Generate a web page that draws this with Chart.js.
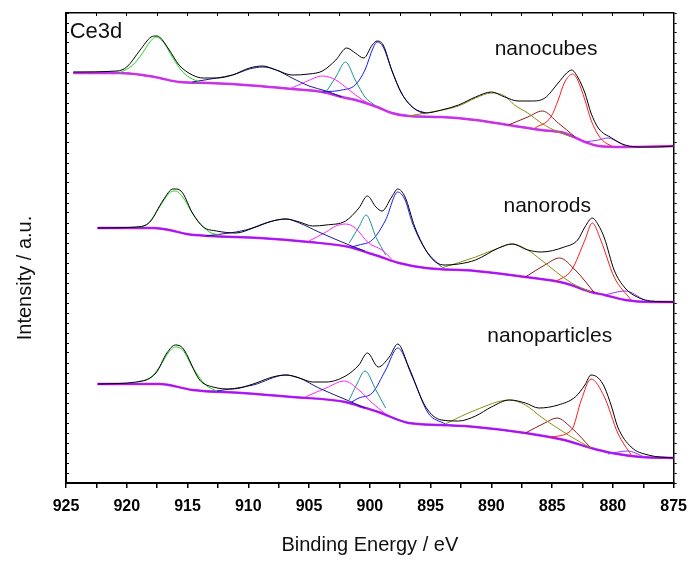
<!DOCTYPE html>
<html>
<head>
<meta charset="utf-8">
<script src="https://cdn.jsdelivr.net/npm/chart.js@4.4.0/dist/chart.umd.min.js"></script>
<style>
  html, body { margin: 0; padding: 0; background: #fff; }
  #wrap { width: 696px; height: 561px; }
</style>
</head>
<body>
<div id="wrap"><canvas id="chart-1"></canvas></div>
<script>
// Ce3d XPS spectra, points are [binding energy / eV, intensity / a.u.]
// each spectrum is stacked with its own offset, as in the figure

// nanocubes (top)
var cubes_exp = [[924.4,41.1],[920.8,41.2],[920.0,41.6],[918.9,43.3],[918.0,44.6],[917.6,44.7],[917.3,44.6],[916.5,43.3],[915.7,41.8],[914.6,40.8],[913.7,40.5],[912.6,40.5],[911.3,40.8],[909.9,41.5],[908.8,41.7],[907.7,41.3],[906.4,40.8],[905.0,40.9],[903.9,41.2],[902.8,42.3],[901.9,43.5],[901.2,43.0],[900.5,42.5],[899.8,43.8],[899.4,44.2],[898.9,43.8],[898.2,41.3],[897.4,39.0],[896.4,37.5],[895.4,37.0],[894.1,37.3],[892.7,37.8],[891.3,38.6],[890.0,39.1],[888.9,38.6],[887.8,38.2],[886.7,38.2],[885.6,38.5],[884.5,40.0],[883.8,41.0],[883.4,41.3],[882.9,40.6],[882.3,39.0],[881.8,37.0],[881.2,35.5],[880.1,34.5],[879.0,33.8],[877.7,33.6],[876.3,33.6],[875.0,33.7]];
var cubes_bg = [[924.4,41.0],[920.6,41.0],[918.7,40.8],[917.3,40.5],[915.7,40.1],[913.2,40.0],[909.1,39.7],[906.4,39.4],[903.9,39.1],[902.3,38.6],[900.9,38.2],[899.4,37.6],[898.2,37.0],[896.8,36.7],[894.1,36.6],[891.3,36.3],[888.6,35.8],[885.9,35.3],[884.0,35.0],[882.3,34.1],[881.2,33.7],[879.0,33.6],[875.0,33.7]];
var cubes_v1 = [[920.6,41.0],[919.5,41.8],[918.7,43.0],[918.1,44.1],[917.6,44.6],[917.0,44.1],[916.2,42.5],[915.4,41.1],[914.6,40.4],[914.0,40.1]];
var cubes_v2 = [[914.6,40.1],[912.6,40.5],[911.3,40.8],[909.9,41.4],[908.8,41.6],[907.7,41.3],[906.4,40.5],[905.0,39.7],[903.6,39.2],[902.3,38.6]];
var cubes_v3 = [[906.6,39.4],[905.3,40.1],[903.9,40.7],[902.8,40.3],[901.7,39.3],[900.6,38.3],[899.5,37.6]];
var cubes_v4 = [[903.6,39.1],[902.8,40.6],[902.0,42.1],[901.2,40.3],[900.4,38.6],[899.5,37.7]];
var cubes_v5 = [[903.9,39.1],[902.3,39.3],[901.2,39.8],[900.4,41.3],[899.7,43.6],[899.4,44.1],[898.9,43.6],[898.2,41.3],[897.4,39.0],[896.4,37.5],[895.4,37.0]];
var cubes_u1 = [[896.8,36.7],[895.4,37.0],[892.7,37.7],[891.3,38.5],[890.0,39.0],[888.9,38.7],[888.1,37.8],[887.0,37.0],[885.9,36.0],[884.5,35.1],[883.4,34.6]];
var cubes_u2 = [[888.6,35.8],[887.0,36.6],[885.8,37.2],[884.5,36.0],[883.1,34.6]];
var cubes_u3 = [[886.4,35.5],[885.1,36.6],[884.5,38.3],[884.0,40.0],[883.3,40.9],[882.9,40.3],[882.3,38.3],[881.8,36.3],[881.2,34.8],[880.7,34.1],[880.1,33.7]];
var cubes_u4 = [[882.3,34.1],[881.2,34.3],[880.4,34.5],[879.6,34.1],[879.0,33.7]];

// nanorods (middle)
var rods_exp = [[922.4,25.5],[919.2,25.6],[918.1,26.1],[917.0,28.3],[916.2,29.4],[915.9,29.4],[915.4,29.0],[914.6,27.0],[913.7,25.6],[912.6,25.2],[911.0,25.0],[909.6,25.5],[908.0,26.2],[906.9,26.4],[905.8,26.1],[904.7,25.7],[903.6,25.8],[902.0,26.2],[900.9,27.5],[900.2,28.7],[899.5,27.6],[899.0,27.2],[898.2,28.6],[897.7,29.4],[897.1,28.6],[896.3,25.6],[895.4,23.3],[894.6,22.1],[893.8,21.8],[892.7,21.9],[891.3,22.3],[889.4,23.5],[888.3,23.9],[887.0,23.3],[885.9,23.1],[884.0,23.6],[882.9,24.3],[882.3,25.6],[881.7,26.5],[881.2,25.8],[880.7,24.5],[879.9,21.3],[879.0,19.5],[878.0,18.6],[876.9,18.2],[875.0,18.1]];
var rods_bg = [[922.4,25.5],[917.8,25.5],[916.5,25.3],[915.1,24.9],[913.2,24.7],[909.1,24.5],[905.0,24.1],[901.7,23.6],[900.1,23.0],[899.3,22.7],[897.6,22.0],[895.4,21.5],[891.3,21.2],[887.2,20.6],[884.0,20.0],[881.8,19.1],[880.7,18.8],[879.0,18.3],[876.9,18.1],[875.0,18.1]];
var rods_v1 = [[919.2,25.6],[918.4,25.8],[917.3,27.6],[916.5,29.0],[916.0,29.2],[915.4,28.6],[914.6,27.0],[914.0,26.0],[913.2,25.1],[912.4,24.8]];
var rods_v2 = [[913.5,24.7],[910.2,25.3],[908.3,26.1],[906.9,26.4],[905.8,26.0],[904.2,25.1],[901.7,23.8],[900.4,23.2]];
var rods_v3 = [[905.0,24.2],[903.6,25.1],[902.8,25.7],[902.0,25.9],[901.2,25.5],[900.1,24.0],[899.0,23.3],[898.2,22.4]];
var rods_v4 = [[901.7,24.0],[901.2,25.0],[900.9,25.6],[900.3,26.8],[899.5,24.6],[898.7,22.8]];
var rods_v5 = [[901.5,23.6],[900.9,23.8],[899.8,24.3],[898.7,26.3],[897.7,29.1],[897.1,28.3],[896.5,26.0],[895.4,23.3],[894.1,21.6]];
var rods_u1 = [[894.1,21.5],[891.3,22.6],[889.4,23.5],[888.3,23.9],[887.0,23.3],[885.9,22.3],[883.4,20.0],[881.8,19.1]];
var rods_u2 = [[887.2,20.6],[885.6,21.8],[884.4,22.5],[883.1,21.3],[881.5,19.0]];
var rods_u3 = [[884.8,20.1],[883.4,21.3],[882.3,24.3],[881.7,26.0],[881.0,24.3],[879.9,20.6],[878.5,18.3]];
var rods_u4 = [[880.7,18.8],[879.0,19.2],[877.4,18.3]];

// nanoparticles (bottom)
var parts_exp = [[922.4,9.9],[919.2,10.1],[917.6,11.0],[916.7,13.0],[916.0,13.8],[915.4,13.5],[914.0,10.3],[912.9,9.6],[911.3,9.4],[909.6,9.9],[908.0,10.6],[906.9,10.8],[905.8,10.5],[904.7,10.1],[903.6,10.1],[902.0,10.7],[900.9,11.8],[900.2,13.0],[899.3,11.6],[898.4,12.6],[897.7,13.9],[896.8,11.6],[895.4,7.6],[894.1,6.3],[892.7,6.2],[891.3,6.7],[890.0,7.6],[888.5,8.3],[887.2,8.0],[886.1,7.5],[884.5,7.8],[883.1,8.6],[882.3,9.8],[881.8,10.8],[881.2,10.5],[880.7,9.6],[880.1,7.6],[879.6,5.6],[878.5,3.6],[877.1,2.8],[875.0,2.5]];
var parts_bg = [[922.4,9.9],[917.3,9.9],[914.6,9.3],[910.5,9.0],[906.4,8.6],[902.0,8.1],[900.9,7.7],[899.3,7.1],[896.8,6.0],[894.1,5.8],[891.3,5.6],[887.2,5.0],[884.0,4.3],[881.8,3.5],[880.1,3.0],[877.7,2.6],[875.0,2.5]];
var parts_v1 = [[919.2,10.1],[918.1,10.5],[917.3,11.6],[916.6,13.0],[916.0,13.6],[915.4,13.3],[914.6,11.6],[913.5,9.8],[912.6,9.2]];
var parts_v2 = [[912.6,9.2],[909.6,9.8],[906.9,10.8],[905.8,10.5],[904.2,9.5],[901.7,8.2],[900.4,7.5]];
var parts_v3 = [[905.3,8.6],[903.6,9.5],[902.1,10.2],[900.9,9.3],[899.8,8.0],[898.7,6.9]];
var parts_v4 = [[901.7,8.3],[901.1,9.8],[900.4,11.2],[899.5,9.3],[898.7,7.5]];
var parts_v5 = [[901.5,8.1],[900.9,8.5],[899.8,9.0],[898.7,11.3],[897.7,13.5],[896.5,10.6],[895.2,7.0],[893.8,5.9]];
var parts_u1 = [[893.8,5.9],[891.3,7.3],[888.5,8.3],[887.2,7.8],[885.9,6.6],[883.4,4.6],[881.8,3.5]];
var parts_u2 = [[887.2,5.0],[885.6,6.0],[884.6,6.5],[883.4,5.5],[881.8,3.5]];
var parts_u3 = [[885.1,4.6],[883.4,5.3],[882.6,8.3],[881.8,10.4],[880.7,8.6],[879.6,5.0],[878.5,2.8]];
var parts_u4 = [[880.4,2.9],[878.8,3.2],[877.4,2.6]];

var sample_names = ['nanocubes', 'nanorods', 'nanoparticles'];
var sample_label_pos = [[885.5, 42.8], [885.4, 27.1], [885.2, 14.1]];
var x_ticks_min = 875, x_ticks_max = 925;

function curve(points, color, width) {
    return {
        data: points.map(function(p) { return {x: p[0], y: p[1]}; }),
        borderColor: color,
        backgroundColor: color,
        borderWidth: width,
        pointRadius: 0,
        fill: false,
        cubicInterpolationMode: 'monotone',
    };
}

var datasets = [];
var spectra = [
    [cubes_exp, cubes_bg, cubes_v1, cubes_v2, cubes_v3, cubes_v4, cubes_v5, cubes_u1, cubes_u2, cubes_u3, cubes_u4],
    [rods_exp, rods_bg, rods_v1, rods_v2, rods_v3, rods_v4, rods_v5, rods_u1, rods_u2, rods_u3, rods_u4],
    [parts_exp, parts_bg, parts_v1, parts_v2, parts_v3, parts_v4, parts_v5, parts_u1, parts_u2, parts_u3, parts_u4],
];
// fitted component colours, in the order v1..v5, u1..u4
var comp_colors = ['#1ed41e', '#1a1a8c', '#ff22ff', '#149494', '#1a1aff', '#8c8c14', '#8c1a1a', '#ff1a1a', '#9b30ff'];

// black data on top, then components, background at the bottom
spectra.forEach(function(s) {
    datasets.push(curve(s[0], '#000000', 1));
});
spectra.forEach(function(s) {
    for (let i = 2; i < s.length; i++) {
        datasets.push(curve(s[i], comp_colors[i - 2], 1));
    }
});
spectra.forEach(function(s, k) {
    datasets.push(curve(s[1], k == 0 ? '#b040e0' : '#8a1fef', 1.4));
    datasets.push(curve(s[1], '#f020f0', 2.4));
});

var textPlugin = {
    id: 'panelText',
    afterDatasetsDraw: function(chart) {
        var ctx = chart.ctx;
        var xs = chart.scales.x, ys = chart.scales.y;
        ctx.save();
        ctx.fillStyle = '#111';
        ctx.textBaseline = 'alphabetic';
        ctx.font = '22px "Liberation Sans", Arial, sans-serif';
        ctx.textAlign = 'left';
        ctx.fillText('Ce3d', xs.getPixelForValue(924.7), ys.getPixelForValue(44.5));
        ctx.font = '21px "Liberation Sans", Arial, sans-serif';
        ctx.textAlign = 'center';
        for (let i = 0; i < sample_names.length; i++) {
            ctx.fillText(sample_names[i], xs.getPixelForValue(sample_label_pos[i][0]), ys.getPixelForValue(sample_label_pos[i][1]));
        }
        // y title sits a bit below the middle of the axis in the original
        ctx.translate(25, ys.getPixelForValue(20.5));
        ctx.rotate(-Math.PI / 2);
        ctx.font = '20px "Liberation Sans", Arial, sans-serif';
        ctx.textBaseline = 'middle';
        ctx.fillText('Intensity / a.u.', 0, 0);
        ctx.restore();
    }
};

const ctx = document.getElementById('chart-1').getContext('2d');
const myChart = new Chart(ctx, {
    type: 'line',
    data: { datasets: datasets },
    plugins: [textPlugin],
    options: {
        responsive: true,
        maintainAspectRatio: false,
        animation: false,
        layout: { padding: 0 },
        plugins: {
            legend: { display: false },
            tooltip: { enabled: false },
        },
        scales: {
            x: {
                type: 'linear',
                position: 'bottom',
                min: x_ticks_min,
                max: x_ticks_max,
                reverse: true,
                afterFit: function(scale) { scale.height = 78; },
                border: { display: true, color: '#000', width: 2 },
                grid: { drawOnChartArea: false, drawTicks: true, tickLength: 5, color: '#000', lineWidth: 1.5 },
                ticks: {
                    stepSize: 2.5,
                    autoSkip: false,
                    maxRotation: 0,
                    padding: 9,
                    color: '#000',
                    font: { family: '"Liberation Sans", Arial, sans-serif', size: 16, weight: 'bold' },
                    callback: function(v) { return v % 5 == 0 ? String(v) : ''; },
                },
                title: {
                    display: true,
                    text: 'Binding Energy / eV',
                    color: '#111',
                    font: { family: '"Liberation Sans", Arial, sans-serif', size: 20 },
                    padding: { top: 0, bottom: 4 },
                },
            },
            x2: {
                type: 'linear',
                position: 'top',
                min: x_ticks_min,
                max: x_ticks_max,
                reverse: true,
                afterFit: function(scale) { scale.height = 13; },
                border: { display: true, color: '#000', width: 1.5 },
                grid: { drawOnChartArea: false, drawTicks: true, tickLength: -3, color: '#000' },
                ticks: { stepSize: 2.5, display: false },
            },
            y: {
                type: 'linear',
                position: 'left',
                min: 0,
                max: 47,
                afterFit: function(scale) { scale.width = 66; },
                border: { display: true, color: '#000', width: 2 },
                grid: { drawOnChartArea: false, drawTicks: true, tickLength: -3, color: '#000' },
                ticks: { stepSize: 1, display: false },
            },
            y2: {
                type: 'linear',
                position: 'right',
                min: 0,
                max: 47,
                afterFit: function(scale) { scale.width = 20; },
                border: { display: true, color: '#000', width: 1.5 },
                grid: { drawOnChartArea: false, drawTicks: true, tickLength: 3, color: '#000' },
                ticks: { stepSize: 1, display: false },
            },
        },
    },
});
</script>
</body>
</html>
